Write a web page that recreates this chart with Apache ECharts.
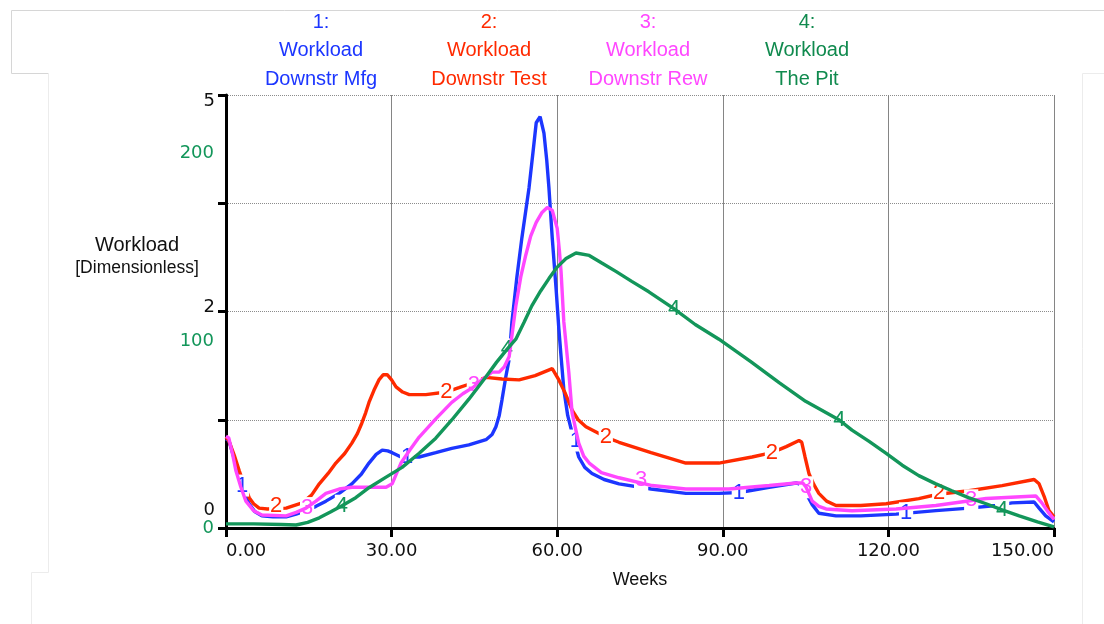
<!DOCTYPE html>
<html>
<head>
<meta charset="utf-8">
<script src="https://cdn.jsdelivr.net/npm/echarts@6/dist/echarts.min.js"></script>
<style>
  html, body { margin: 0; padding: 0; background: #ffffff; }
  #chart { width: 1104px; height: 624px; }
</style>
</head>
<body>
<div id="chart"></div>
<script>
// Workload over time, [week, value]. Series 1-3 use the 0-5 scale, series 4 the 0-200 scale.
const mfgWorkload = [
  [0,1.03],[0.5,1.01],[1.5,0.80],[2.4,0.58],[3.3,0.40],[4.2,0.28],[5.2,0.19],[6.5,0.14],[8.5,0.13],
  [10.9,0.13],[12.7,0.16],[14.5,0.20],[16.3,0.25],[18.1,0.31],[20.5,0.40],[22.8,0.51],[24.5,0.62],
  [25.9,0.75],[27.2,0.85],[28.3,0.90],[29.3,0.89],[30.1,0.87],[31.7,0.82],[35.0,0.82],[38,0.87],
  [40.9,0.92],[44,0.96],[47.1,1.02],[48.2,1.08],[48.9,1.17],[49.5,1.30],[50.0,1.48],[50.7,1.75],
  [51.3,1.95],[51.8,2.38],[52.7,2.90],[53.6,3.35],[54.9,3.93],[55.6,4.33],[56.2,4.68],[56.9,4.75],
  [57.6,4.56],[58.1,4.25],[58.5,3.93],[59.1,3.35],[59.8,2.76],[60.3,2.30],[60.7,1.98],[61.2,1.60],
  [61.9,1.30],[62.7,1.10],[63.9,0.82],[65,0.70],[66.3,0.63],[68.5,0.56],[71.2,0.51],[77,0.45],
  [83.3,0.40],[89.3,0.40],[93,0.41],[98.4,0.47],[103.3,0.52],[104.2,0.50],[105.1,0.40],[106.2,0.27],
  [107.4,0.17],[110.5,0.14],[115,0.14],[121.4,0.16],[128.6,0.20],[134.6,0.23],[139.5,0.26],
  [142.4,0.29],[146.4,0.30],[147.3,0.23],[148.5,0.14],[150,0.07]
];
const testWorkload = [
  [0,1.05],[0.5,1.01],[1.5,0.84],[2.4,0.66],[3.3,0.50],[4.2,0.35],[5,0.28],[6.0,0.23],[7.5,0.22],
  [10.9,0.23],[13.8,0.29],[15.5,0.38],[16.9,0.51],[18.5,0.63],[19.9,0.75],[21.5,0.86],[22.8,0.98],
  [23.8,1.09],[24.6,1.21],[25.3,1.33],[25.9,1.45],[26.8,1.59],[27.7,1.71],[28.5,1.77],[29.2,1.77],
  [30.0,1.71],[30.8,1.63],[32,1.57],[33.2,1.54],[36.2,1.54],[39.9,1.57],[42.2,1.62],[44.0,1.66],
  [47.1,1.74],[50,1.72],[53.1,1.71],[56,1.76],[59.1,1.84],[60.3,1.71],[61.5,1.55],[62.7,1.36],
  [63.8,1.25],[65.2,1.17],[68.8,1.05],[71.2,0.99],[77,0.87],[83.3,0.75],[89.3,0.75],[95.3,0.82],
  [98.9,0.87],[101.5,0.94],[103.8,1.01],[104.3,0.99],[104.9,0.82],[105.6,0.63],[106.5,0.50],
  [107.4,0.40],[108.8,0.31],[110.5,0.26],[115,0.26],[119.6,0.28],[125.5,0.34],[129,0.39],
  [134.6,0.43],[140.6,0.49],[146.4,0.56],[147.3,0.51],[148.3,0.35],[149.1,0.20],[150,0.13]
];
const rewWorkload = [
  [0,1.06],[0.5,1.04],[1.2,0.85],[1.8,0.66],[2.7,0.47],[3.6,0.31],[5,0.20],[6.5,0.15],[10.9,0.14],
  [12.7,0.18],[14.5,0.23],[16.3,0.31],[18.1,0.40],[20.5,0.45],[22.8,0.47],[26,0.47],[29.0,0.47],
  [30.1,0.51],[30.9,0.63],[31.7,0.75],[33.3,0.90],[35.0,1.05],[38,1.26],[40.9,1.45],[42.9,1.55],
  [44.9,1.63],[46.5,1.72],[48.2,1.80],[49.5,1.80],[50.4,1.86],[51.3,1.98],[52.5,2.56],[53.4,2.90],
  [54.3,3.15],[55.2,3.37],[56.2,3.53],[57.2,3.64],[58.2,3.70],[59.1,3.67],[60.0,3.46],[60.4,3.20],
  [60.7,2.96],[61.2,2.38],[62.1,1.80],[62.7,1.33],[63.9,0.98],[64.8,0.83],[65.8,0.75],[68,0.64],
  [71.2,0.58],[77.2,0.49],[83.3,0.45],[91.1,0.45],[98.4,0.49],[103.3,0.52],[104.5,0.52],[105.1,0.47],
  [106.2,0.31],[107.4,0.25],[108.7,0.22],[113.4,0.20],[121.4,0.22],[128.6,0.26],[137.7,0.34],
  [146.7,0.37],[147.8,0.29],[149,0.18],[150,0.10]
];
const pitWorkload = [
  [0,1.9],[5,1.9],[10,1.6],[12.7,1.4],[14.8,2.6],[16.9,4.7],[19,7.5],[21.0,10.3],[23.5,14],
  [25.9,18.6],[29,23.5],[31.9,28.0],[35.0,34.5],[38,41.5],[40.9,49.9],[44,59.5],[47.1,69.9],
  [49,76.5],[50.9,82.5],[52.5,87.2],[54,95],[55.4,102.6],[57,109.5],[58.5,115.2],[60,120.5],
  [61.6,124.5],[63.4,127.0],[65.8,125.9],[68,122.5],[70.7,118.4],[73.5,113.9],[76.6,109.1],
  [81.2,101.2],[85,94],[89.3,87.2],[95,77],[100.2,67.1],[105,58.5],[111.1,49.9],[113.4,45.2],
  [116.5,40],[119.6,34.5],[122.5,29],[125.5,24.2],[128.5,20.5],[131.5,17.2],[134.5,14],
  [137.7,11.2],[140.6,8.4],[143.7,5.6],[147,2.8],[150,0.5]
];

// Spots where each curve carries its number tag
const mfgTags  = [[2.9,0.49],[32.8,0.82],[63.4,1.01],[92.9,0.41],[123.2,0.17]];
const testTags = [[9.1,0.26],[39.9,1.57],[68.8,1.05],[98.9,0.87],[129.2,0.40]];
const rewTags  = [[14.7,0.23],[44.9,1.65],[75.2,0.55],[105.1,0.47],[135.0,0.32]];
const pitTags  = [[21.0,10.3],[50.9,82.5],[81.2,101.2],[111.1,49.9],[140.6,8.4]];

const seriesNames = ['Workload Downstr Mfg', 'Workload Downstr Test', 'Workload Downstr Rew', 'Workload The Pit'];
const headerLines = [
  ['1:', 'Workload', 'Downstr Mfg'],
  ['2:', 'Workload', 'Downstr Test'],
  ['3:', 'Workload', 'Downstr Rew'],
  ['4:', 'Workload', 'The Pit']
];
const colors = ['#1c36ff', '#ff2a00', '#ff47ff', '#13965a'];
const headerColors = ['#1c36ff', '#ff2a00', '#ff47ff', '#108a4e'];
const headerCenters = [316, 484, 643, 802];

// Scale labels: black scale (0-5) and green scale (0-200)
const leftScaleLabels = { 0: '0', 2.5: '2', 5: '5' };
const pitScaleLabels = { 0: '0', 100: '100', 200: '200' };

const chart = echarts.init(document.getElementById('chart'), null, { renderer: 'canvas' });

const tickFont = 'DejaVu Sans';
const textFont = 'Liberation Sans';

function tagPoints(tags, label) {
  return tags.map(p => ({ coord: p, value: label }));
}

function lineSeries(i, data, tags, yAxisIndex) {
  return {
    name: seriesNames[i],
    type: 'line',
    yAxisIndex: yAxisIndex,
    data: data,
    showSymbol: false,
    symbol: 'none',
    lineStyle: { color: colors[i], width: 3.4 },
    itemStyle: { color: colors[i] },
    z: 3 + i,
    markPoint: {
      symbol: 'circle',
      symbolSize: 0,
      silent: true,
      label: {
        show: true,
        position: 'inside',
        formatter: String(i + 1),
        color: colors[i],
        fontFamily: textFont,
        fontSize: 22,
        fontWeight: 'normal',
        backgroundColor: '#ffffff',
        padding: [0, 1, 0, 1]
      },
      data: tagPoints(tags, String(i + 1))
    }
  };
}

const titles = headerLines.map((lines, i) => ({
  text: lines.join('\n'),
  left: headerCenters[i],
  top: 3,
  textAlign: 'center',
  textStyle: {
    color: headerColors[i],
    fontFamily: textFont,
    fontSize: 20,
    fontWeight: 'normal',
    lineHeight: 28.5
  }
}));
titles.push({
  text: '{a|Workload}\n{b|[Dimensionless]}',
  left: 132,
  top: 228,
  textAlign: 'center',
  textStyle: {
    fontWeight: 'normal',
    rich: {
      a: { fontFamily: textFont, fontSize: 20, fontWeight: 'normal', color: '#111', lineHeight: 24, align: 'center' },
      b: { fontFamily: textFont, fontSize: 17.5, fontWeight: 'normal', color: '#111', lineHeight: 22, align: 'center' }
    }
  }
});

const frameColorTop = '#d6d6d6';
const frameColor = '#ececec';

const option = {
  animation: false,
  backgroundColor: '#ffffff',
  title: titles,
  grid: { left: 226, top: 95, width: 828, height: 433, containLabel: false },
  xAxis: {
    type: 'value',
    min: 0,
    max: 150,
    interval: 30,
    name: 'Weeks',
    nameLocation: 'middle',
    nameGap: 43,
    nameTextStyle: { fontFamily: textFont, fontSize: 18, color: '#111' },
    axisLine: { show: true, onZero: false, lineStyle: { color: '#000', width: 3 } },
    axisTick: { show: true, length: 9, lineStyle: { color: '#000', width: 3 } },
    axisLabel: {
      margin: 14,
      fontFamily: tickFont,
      fontSize: 18,
      color: '#111',
      formatter: v => v.toFixed(2),
      alignMinLabel: 'left',
      alignMaxLabel: 'right'
    },
    splitLine: { show: true, lineStyle: { color: '#858585', width: 1 } }
  },
  yAxis: [
    {
      type: 'value',
      min: 0,
      max: 5,
      interval: 1.25,
      position: 'left',
      axisLine: { show: true, onZero: false, lineStyle: { color: '#000', width: 3 } },
      axisTick: { show: true, length: 8, lineStyle: { color: '#000', width: 3 } },
      axisLabel: {
        margin: 11,
        fontFamily: tickFont,
        fontSize: 18,
        color: '#111',
        formatter: v => {
          const t = leftScaleLabels[v];
          if (t === undefined) return '';
          if (v === 0) return '{lo|' + t + '}';
          if (v === 5) return '{hi|' + t + '}';
          return '{mid|' + t + '}';
        },
        rich: {
          lo: { fontFamily: tickFont, fontSize: 18, color: '#111', padding: [0, 0, 36, 0] },
          mid: { fontFamily: tickFont, fontSize: 18, color: '#111', padding: [0, 0, 8, 0] },
          hi: { fontFamily: tickFont, fontSize: 18, color: '#111', padding: [12, 0, 0, 0] }
        }
      },
      splitLine: { show: true, lineStyle: { color: '#8c8c8c', width: 1, type: [1, 1] } }
    },
    {
      type: 'value',
      min: 0,
      max: 200,
      interval: 100,
      position: 'left',
      axisLine: { show: false },
      axisTick: { show: false },
      splitLine: { show: false },
      axisLabel: {
        margin: 12,
        fontFamily: tickFont,
        fontSize: 18,
        color: colors[3],
        formatter: v => {
          const t = pitScaleLabels[v];
          if (t === undefined) return '';
          if (v === 200) return '{hi|' + t + '}';
          if (v === 100) return '{mid|' + t + '}';
          return '{lo|' + t + '}';
        },
        rich: {
          hi: { fontFamily: tickFont, fontSize: 18, color: colors[3], padding: [116, 0, 0, 0] },
          mid: { fontFamily: tickFont, fontSize: 18, color: colors[3], padding: [60, 0, 0, 0] },
          lo: { fontFamily: tickFont, fontSize: 18, color: colors[3], padding: [0, 0, 0, 0] }
        }
      }
    }
  ],
  series: [
    lineSeries(0, mfgWorkload, mfgTags, 0),
    lineSeries(1, testWorkload, testTags, 0),
    lineSeries(2, rewWorkload, rewTags, 0),
    lineSeries(3, pitWorkload, pitTags, 1)
  ],
  graphic: [
    { type: 'polyline', silent: true, z: 0,
      shape: { points: [[1104, 10.5], [11.5, 10.5], [11.5, 73.5], [48.5, 73.5]] },
      style: { stroke: frameColorTop, lineWidth: 1, fill: null } },
    { type: 'polyline', silent: true, z: 0,
      shape: { points: [[48.5, 73.5], [48.5, 572.5], [31.5, 572.5], [31.5, 624]] },
      style: { stroke: frameColor, lineWidth: 1, fill: null } },
    { type: 'polyline', silent: true, z: 0,
      shape: { points: [[1104, 73.5], [1082.5, 73.5], [1082.5, 624]] },
      style: { stroke: frameColor, lineWidth: 1, fill: null } }
  ]
};

chart.setOption(option);
</script>
</body>
</html>
